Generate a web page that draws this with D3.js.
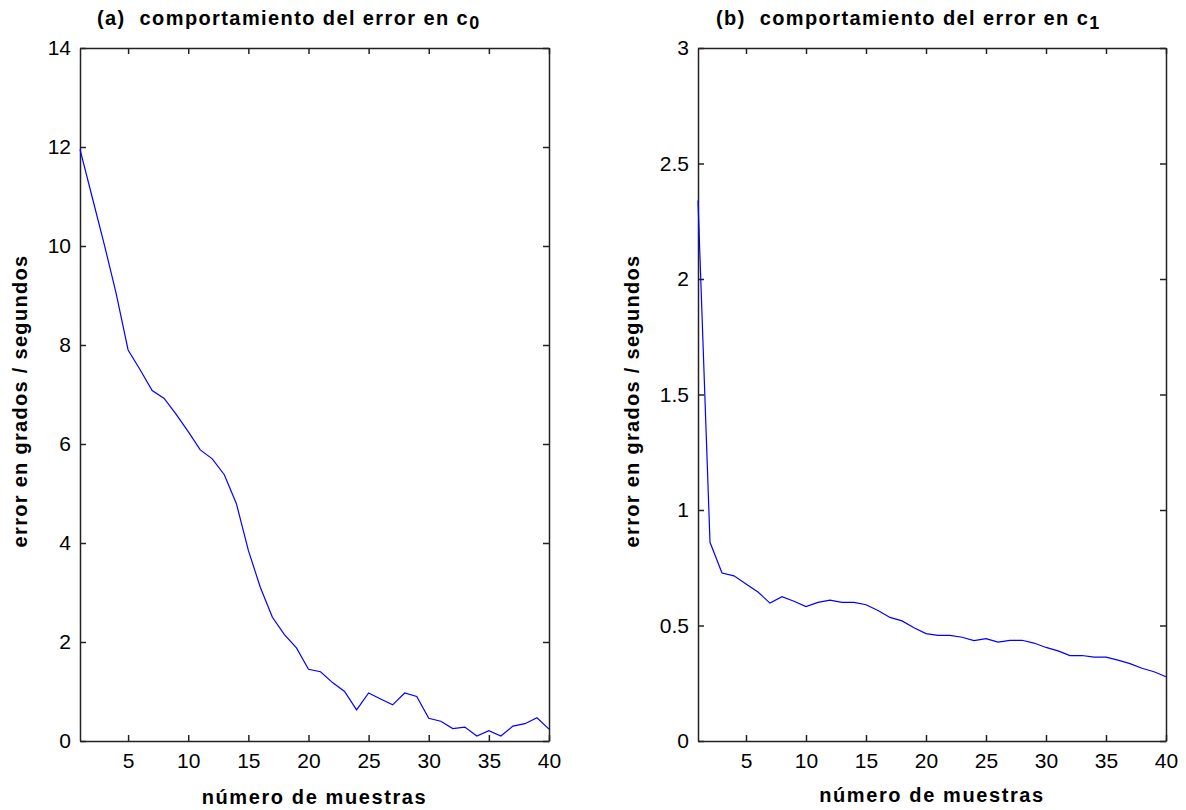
<!DOCTYPE html>
<html>
<head>
<meta charset="utf-8">
<script src="https://cdnjs.cloudflare.com/ajax/libs/d3/7.8.5/d3.min.js"></script>
<style>
	body { margin: 0; background: #fff; }
	svg { display: block; }
	.tick text { font-family: "Liberation Sans", Arial, sans-serif; font-size: 21px; fill: #000; }
	.tick line, .domain { stroke: #222; }
	.ttl, .lbl { font-family: "Liberation Sans", Arial, sans-serif; font-weight: bold; fill: #000; white-space: pre; }
</style>
</head>
<body>
<div id="chart"></div>
<script>

// muestras 1..40
var muestras = d3.range(1, 41);

// (a) error en c0
var errorC0 = [11.95, 11.0, 10.05, 9.05, 7.9, 7.5, 7.08, 6.92, 6.6, 6.25,
	5.88, 5.7, 5.38, 4.8, 3.85, 3.1, 2.5, 2.15, 1.88, 1.45,
	1.4, 1.18, 1.0, 0.63, 0.97, 0.85, 0.73, 0.97, 0.9, 0.46,
	0.4, 0.25, 0.28, 0.1, 0.21, 0.1, 0.3, 0.35, 0.47, 0.24];

// (b) error en c1
var errorC1 = [2.34, 0.86, 0.727, 0.715, 0.68, 0.645, 0.597, 0.625, 0.605, 0.582,
	0.6, 0.61, 0.6, 0.6, 0.59, 0.565, 0.535, 0.52, 0.49, 0.465,
	0.457, 0.457, 0.449, 0.435, 0.443, 0.428, 0.436, 0.436, 0.424, 0.405,
	0.39, 0.37, 0.37, 0.363, 0.363, 0.35, 0.335, 0.315, 0.3, 0.278];

var xTicks = [5, 10, 15, 20, 25, 30, 35, 40];
var yTicksA = [0, 2, 4, 6, 8, 10, 12, 14];
var yTicksB = [0, 0.5, 1, 1.5, 2, 2.5, 3];

var titleA = "(a)  comportamiento del error en c";
var titleB = "(b)  comportamiento del error en c";
var xLabel = "número de muestras";
var yLabel = "error en grados / segundos";


var GRAF = (function(GRAF, d3)
{
	var W = 1186, H = 810;

	var svg = d3.select("#chart").append("svg")
		.attr("width", W)
		.attr("height", H);

	svg.append("rect")
		.attr("width", W)
		.attr("height", H)
		.attr("fill", "#fff");


	GRAF.panel = function(p)
	{
		var x = d3.scaleLinear().domain([1, 40]).range([p.left, p.right]);
		var y = d3.scaleLinear().domain(p.yDomain).range([741, 48]);
		var fmt = d3.format("~g");

		var g = svg.append("g");

		// ticks hacia dentro, como en matlab
		g.append("g")
			.attr("transform", "translate(0,741)")
			.call(d3.axisBottom(x).tickValues(xTicks).tickSize(-6).tickSizeOuter(0).tickPadding(12));

		g.append("g")
			.attr("transform", "translate(0,48)")
			.call(d3.axisTop(x).tickValues(xTicks).tickSize(-6).tickSizeOuter(0).tickFormat(""));

		g.append("g")
			.attr("transform", "translate(" + p.left + ",0)")
			.call(d3.axisLeft(y).tickValues(p.yTicks).tickSize(-6).tickSizeOuter(0).tickPadding(9).tickFormat(fmt));

		g.append("g")
			.attr("transform", "translate(" + p.right + ",0)")
			.call(d3.axisRight(y).tickValues(p.yTicks).tickSize(-6).tickSizeOuter(0).tickFormat(""));

		g.selectAll(".domain").attr("stroke-width", 1.5);
		g.selectAll(".tick line").attr("stroke-width", 1.5);

		var line = d3.line()
			.x(function(d, i) { return x(muestras[i]); })
			.y(function(d) { return y(d); });

		g.append("path")
			.datum(p.values)
			.attr("fill", "none")
			.attr("stroke", "#0000ff")
			.attr("stroke-width", 1.2)
			.attr("d", line);

		// titulo con subindice
		var t = g.append("text")
			.attr("class", "ttl")
			.attr("x", p.titleX)
			.attr("y", 25)
			.attr("font-size", 20)
			.attr("letter-spacing", 1.4)
			.text(p.title);
		t.append("tspan")
			.attr("dy", 4)
			.attr("font-size", 18)
			.text(p.sub);

		g.append("text")
			.attr("class", "lbl")
			.attr("x", (p.left + p.right) / 2)
			.attr("y", p.xLabelY)
			.attr("text-anchor", "middle")
			.attr("font-size", 20)
			.attr("letter-spacing", 1.6)
			.text(xLabel);

		g.append("text")
			.attr("class", "lbl")
			.attr("transform", "translate(" + p.yLabelX + ",401) rotate(-90)")
			.attr("text-anchor", "middle")
			.attr("font-size", 20)
			.attr("letter-spacing", 1.3)
			.text(yLabel);

		return g;
	}


	GRAF.panel({ left: 80, right: 549, yDomain: [0, 14], yTicks: yTicksA, values: errorC0,
		title: titleA, sub: "0", titleX: 97, xLabelY: 804, yLabelX: 27 });

	GRAF.panel({ left: 698, right: 1166, yDomain: [0, 3], yTicks: yTicksB, values: errorC1,
		title: titleB, sub: "1", titleX: 716, xLabelY: 802, yLabelX: 639 });

	return GRAF;

}(window.GRAF || {}, d3));

</script>
</body>
</html>
